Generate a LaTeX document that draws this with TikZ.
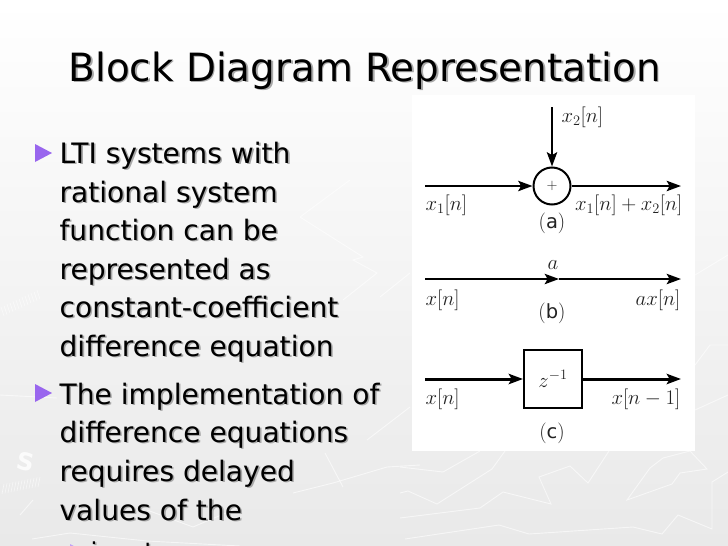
\documentclass[tikz,border=0pt]{standalone}
\usepackage{fontspec}
\setmainfont{DejaVu Sans}
\usetikzlibrary{arrows.meta, positioning}
\definecolor{cpurple}{HTML}{9966EE}
\definecolor{cpaper}{HTML}{E9E9E9}
\definecolor{cshadow}{HTML}{A8A8A8}
\definecolor{cink}{HTML}{222222}
\newcommand{\shadowed}[1]{\makebox[0pt][l]{\hspace{1.6pt}\raisebox{-1.6pt}{\textcolor{cshadow}{#1}}}#1}
\tikzset{
  every picture/.style={line width=1.2pt},
  heading/.style={anchor=base west, font=\fontsize{38.9}{44}\selectfont, inner sep=0pt},
  bullet/.style={anchor=base west, font=\fontsize{28.1}{32}\selectfont, inner sep=0pt},
  subbullet/.style={anchor=base west, font=\fontsize{24.6}{28}\selectfont, inner sep=0pt},
  marker/.style={fill=cpurple, draw=none},
  map/.style={draw=white, line width=0.9pt, opacity=0.6},
  label/.style={font=\fontsize{19.5}{22}\selectfont, inner sep=0pt, text=cink},
  arrow/.style={-{Stealth[length=5mm, width=3.6mm, inset=1mm]}, draw=black, line width=2.4pt},
  thick arrow/.style={arrow, line width=3pt},
  adder/.style={circle, draw=black, fill=white, line width=2pt, minimum size=37pt, inner sep=0pt, label, font=\fontsize{15}{17}\selectfont},
  delay/.style={rectangle, draw=black, fill=white, line width=2pt, minimum size=58pt, inner sep=0pt, label},
}
\begin{document}
\begin{tikzpicture}[x=1pt, y=-1pt]
  \useasboundingbox (0,0) rectangle (728,546);
  % slide background
  \shade[top color=white, bottom color=cpaper] (0,0) rectangle (728,546);
  % faint map lines
  \draw[map] (400,467) -- (443,472) -- (480,451);
  \draw[map] (400,493) -- (408,491) -- (437,504) -- (492,469) -- (505,451);
  \draw[map] (400,518) -- (480,508) -- (503,492) -- (551,504) -- (539,477) -- (570,466) -- (588,483) -- (609,451);
  \draw[map] (405,539) -- (499,525) -- (529,534) -- (633,527) -- (662,534) -- (678,515) -- (712,529) -- (712,482) -- (728,472);
  \draw[map] (627,500) -- (672,484) -- (680,473) -- (707,469) -- (690,451) -- (663,458) -- (650,468) -- cycle;
  \draw[map] (32,539) -- (70,533) -- (147,541) -- (240,546);
  \draw[map] (20,515) -- (33,500);
  \draw[map] (147,510) -- (193,527) -- (240,507);
  \draw[map] (293,493) -- (333,483) -- (387,467) -- (420,465);
  \draw[map] (325,453) -- (343,487);
  \draw[map] (367,440) -- (410,407);
  \draw[map] (300,217) -- (350,180);
  \draw[map] (300,217) -- (363,257) -- (353,260) -- (377,273) -- (343,300);
  \draw[map] (410,273) -- (380,297);
  \draw[map] (0,395) -- (57,398);
  \draw[map] (695,275) -- (728,255);
  \draw[map] (695,365) -- (710,345) -- (728,345);
  \draw[map] (695,410) -- (728,395);
  % compass ticks and letter
  \foreach \i in {0,...,12} \draw[map, line width=0.6pt] (2+\i*3,494-\i*0.6) -- (4+\i*3,484-\i*0.6);
  \foreach \i in {0,...,12} \draw[map, line width=0.6pt] (4+\i*3,316-\i*1.4) -- (1+\i*3,307-\i*1.4);
  \node[text=white, opacity=0.8, font=\bfseries\fontsize{24}{26}\selectfont, inner sep=0pt, rotate=-12] (compass) at (26,462) {S};
  % white panel
  \fill[white] (412,95) rectangle (695,451);
  % title
  \node[heading] (title) at (68,81) {\shadowed{Block Diagram Representation}};
  % text lines
  \foreach \y/\n/\t in {163/la/LTI systems with, 202/lb/rational system, 240/lc/function can be,
    279/ld/represented as, 317/le/constant-coefficient, 356/lf/difference equation,
    404/lg/The implementation of, 442/lh/difference equations, 481/li/requires delayed,
    520/lj/values of the}
    \node[bullet] (\n) at (59,\y) {\shadowed{\t}};
  \node[subbullet] (lk) at (90,560) {\shadowed{input}};
  % markers
  \foreach \y in {153,393}
    \fill[marker] (35,\y-9) -- (52,\y) -- (35,\y+9) -- cycle;
  \fill[cpurple!60!white] (70,544) -- (85,552) -- (70,560) -- cycle;
  % (a) adder
  \node[adder] (add) at (552,186) {$+$};
  \coordinate (ain) at (425,186);
  \coordinate (aout) at (681,186);
  \coordinate (atop) at (552,107);
  \draw[arrow] (ain) -- (add);
  \draw[arrow] (atop) -- (add);
  \draw[arrow] (add) -- (aout);
  \node[label, anchor=west] (lxa) at (425,205) {$x_1[n]$};
  \node[label, anchor=east] (lya) at (683,205) {$x_1[n]+x_2[n]$};
  \node[label, anchor=west] (lza) at (561,117) {$x_2[n]$};
  \node[label] (capa) at (552,223) {$(\mathrm{a})$};
  % (b) gain
  \coordinate (bin) at (425,279);
  \coordinate (bmid) at (559,279);
  \coordinate (bout) at (681,279);
  \draw[arrow] (bin) -- (bmid);
  \draw[arrow] (bmid) -- (bout);
  \node[label] (lgain) at (553,265) {$a$};
  \node[label, anchor=west] (lxb) at (425,300) {$x[n]$};
  \node[label, anchor=east] (lyb) at (681,300) {$ax[n]$};
  \node[label] (capb) at (552,313) {$(\mathrm{b})$};
  % (c) delay
  \node[delay] (dly) at (553,379) {\raisebox{-3pt}{$z^{-1}$}};
  \coordinate (cin) at (425,379);
  \coordinate (cout) at (681,379);
  \draw[thick arrow] (cin) -- (dly);
  \draw[thick arrow] (dly) -- (cout);
  \node[label, anchor=west] (lxc) at (425,399) {$x[n]$};
  \node[label, anchor=east] (lyc) at (681,399) {$x[n-1]$};
  \node[label] (capc) at (552,433) {$(\mathrm{c})$};
\end{tikzpicture}
\end{document}
